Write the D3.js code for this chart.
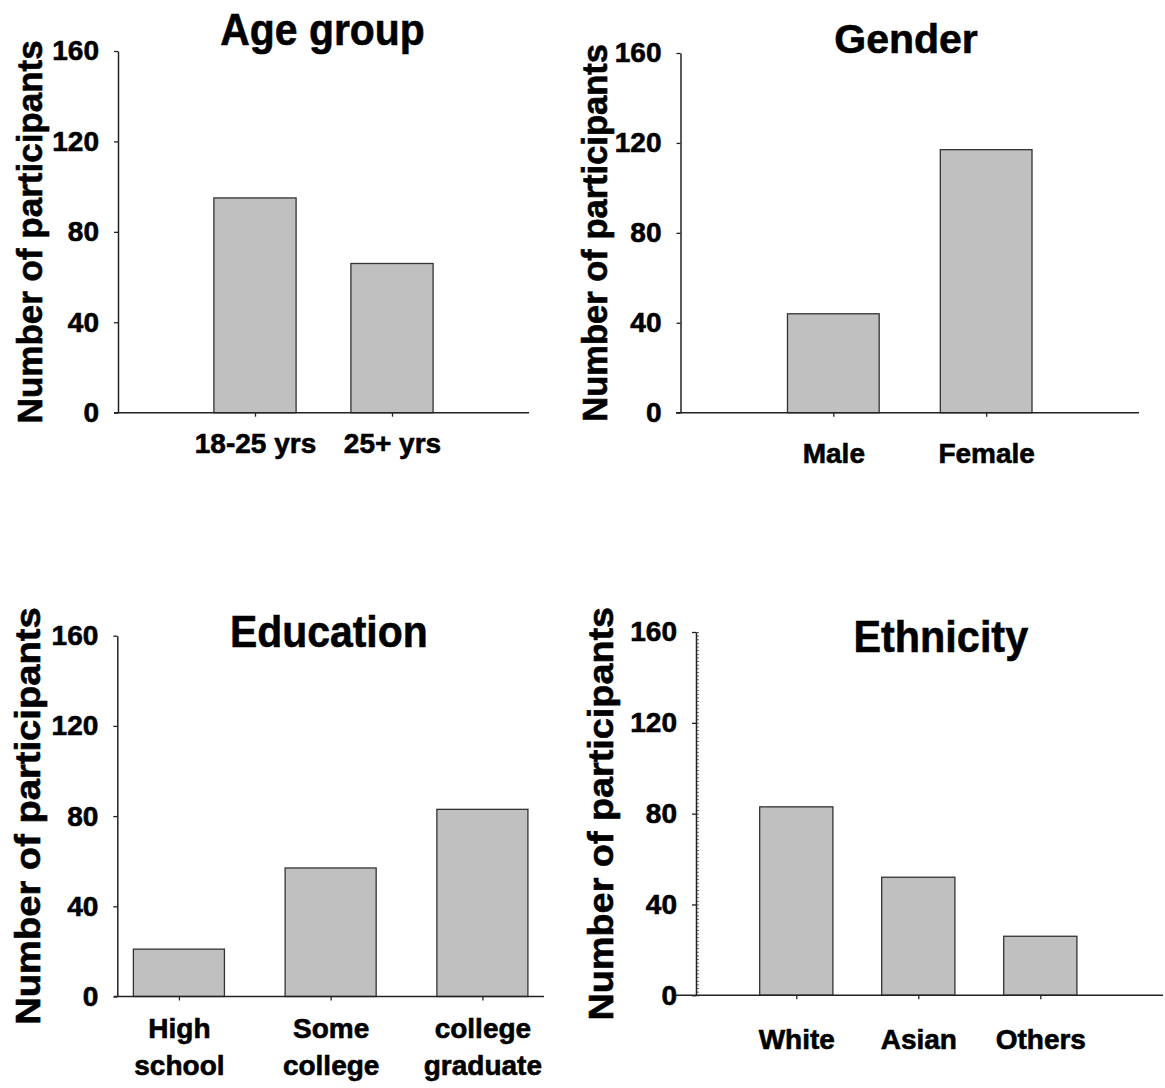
<!DOCTYPE html>
<html>
<head>
<meta charset="utf-8">
<script src="https://cdn.jsdelivr.net/npm/d3@7"></script>
<style>
  body { margin: 0; background: #fff; }
  svg { display: block; }
  text { font-family: "Liberation Sans", Arial, Helvetica, sans-serif; font-weight: bold; fill: #000;
         stroke: #000; stroke-width: 0.6px; paint-order: stroke; }
</style>
</head>
<body>
<svg id="chart" width="1165" height="1088"></svg>
<script>
// ---------------- data ----------------
const yTickValues = [0, 40, 80, 120, 160];
const yAxisLabel = "Number of participants";

const ageTitle = "Age group";
const ageCategories = ["18-25 yrs", "25+ yrs"];
const ageValues = [95, 66];

const genderTitle = "Gender";
const genderCategories = ["Male", "Female"];
const genderValues = [44, 117];

const educationTitle = "Education";
const educationCategories = ["High\nschool", "Some\ncollege", "college\ngraduate"];
const educationValues = [21, 57, 83];

const ethnicityTitle = "Ethnicity";
const ethnicityCategories = ["White", "Asian", "Others"];
const ethnicityValues = [83, 52, 26];

// ---------------- layout ----------------
const panels = [
  { title: ageTitle, cats: ageCategories, vals: ageValues,
    axisX: 118, yTop: 51, yBottom: 412.7, catRange: [118, 529], pad: 1,
    xStart: 114, xEnd: 529,
    titleX: 322.5, titleY: 45, titleSize: 44, titleScale: 0.93,
    ylabX: 42, ylabSize: 35, ylabScale: 1.0, xlabY: 453, minor: false },
  { title: genderTitle, cats: genderCategories, vals: genderValues,
    axisX: 680.5, yTop: 53, yBottom: 412.7, catRange: [680.5, 1139], pad: 1,
    xStart: 676, xEnd: 1139,
    titleX: 906, titleY: 53, titleSize: 41, titleScale: 1.0,
    ylabX: 607, ylabSize: 34.5, ylabScale: 1.0, xlabY: 463, minor: false },
  { title: educationTitle, cats: educationCategories, vals: educationValues,
    axisX: 117.3, yTop: 635.7, yBottom: 996.5, catRange: [117.3, 544], pad: 0.406,
    xStart: 114, xEnd: 544,
    titleX: 328.8, titleY: 647, titleSize: 44.5, titleScale: 0.92,
    ylabX: 40, ylabSize: 35, ylabScale: 1.09, xlabY: 1038, minor: false },
  { title: ethnicityTitle, cats: ethnicityCategories, vals: ethnicityValues,
    axisX: 696, yTop: 632, yBottom: 995.3, catRange: [696, 1140.6], pad: 0.822,
    xStart: 675, xEnd: 1163,
    titleX: 940.8, titleY: 652, titleSize: 45, titleScale: 0.92,
    ylabX: 613, ylabSize: 35, ylabScale: 1.08, xlabY: 1049, minor: true }
];

const svg = d3.select("#chart");
const axisColor = "#222";

panels.forEach(p => {
  const g = svg.append("g");

  const y = d3.scaleLinear().domain([0, 160]).range([p.yBottom, p.yTop]);
  const x = d3.scalePoint().domain(p.cats).range(p.catRange).padding(p.pad);
  const barW = x.step() * 0.6;

  // bars
  g.selectAll("rect.bar").data(p.cats.map((c, i) => ({ c, v: p.vals[i] })))
    .enter().append("rect")
    .attr("class", "bar")
    .attr("x", d => x(d.c) - barW / 2)
    .attr("y", d => y(d.v))
    .attr("width", barW)
    .attr("height", d => y(0) - y(d.v))
    .attr("fill", "#c0c0c0")
    .attr("stroke", "#333")
    .attr("stroke-width", 1.3);

  // minor ticks (ethnicity)
  if (p.minor) {
    const minor = g.append("g")
      .attr("transform", `translate(${p.axisX},0)`)
      .call(d3.axisRight(y).tickValues(d3.range(0, 160.01, 1.6)).tickSize(3).tickFormat(""));
    minor.select(".domain").remove();
    minor.selectAll("line").attr("stroke", "#666").attr("stroke-width", 1);
  }

  // y axis
  const ya = g.append("g")
    .attr("transform", `translate(${p.axisX},0)`)
    .style("color", axisColor)
    .call(d3.axisLeft(y).tickValues(yTickValues).tickSize(4).tickSizeOuter(0).tickPadding(15));
  ya.select(".domain").attr("stroke-width", 1.5);
  ya.selectAll("line").attr("stroke-width", 1.3);
  ya.selectAll("text").style("font-size", "28px").attr("fill", "#000");

  // x axis
  const xa = g.append("g")
    .attr("transform", `translate(0,${p.yBottom})`)
    .style("color", axisColor)
    .call(d3.axisBottom(x).tickSize(4).tickSizeOuter(0));
  xa.select(".domain").remove();
  xa.selectAll("line").attr("stroke-width", 1.3);
  xa.append("line")
    .attr("x1", p.xStart).attr("x2", p.xEnd)
    .attr("y1", 0).attr("y2", 0)
    .attr("stroke", axisColor).attr("stroke-width", 1.6);
  xa.selectAll(".tick text").each(function(d) {
    const t = d3.select(this);
    t.text(null).attr("dy", null).attr("y", p.xlabY - p.yBottom)
      .style("font-size", "28px").attr("fill", "#000");
    d.split("\n").forEach((line, i) => {
      t.append("tspan").attr("x", 0).attr("dy", i === 0 ? 0 : 37).text(line);
    });
  });

  // title
  g.append("text")
    .attr("transform", `translate(${p.titleX},${p.titleY}) scale(${p.titleScale},1)`)
    .attr("text-anchor", "middle")
    .style("font-size", p.titleSize + "px")
    .text(p.title);

  // y axis label
  const cy = (p.yTop + p.yBottom) / 2;
  g.append("text")
    .attr("transform", `translate(${p.ylabX},${cy}) rotate(-90) scale(${p.ylabScale},1)`)
    .attr("text-anchor", "middle")
    .style("font-size", p.ylabSize + "px")
    .text(yAxisLabel);
});
</script>
</body>
</html>
